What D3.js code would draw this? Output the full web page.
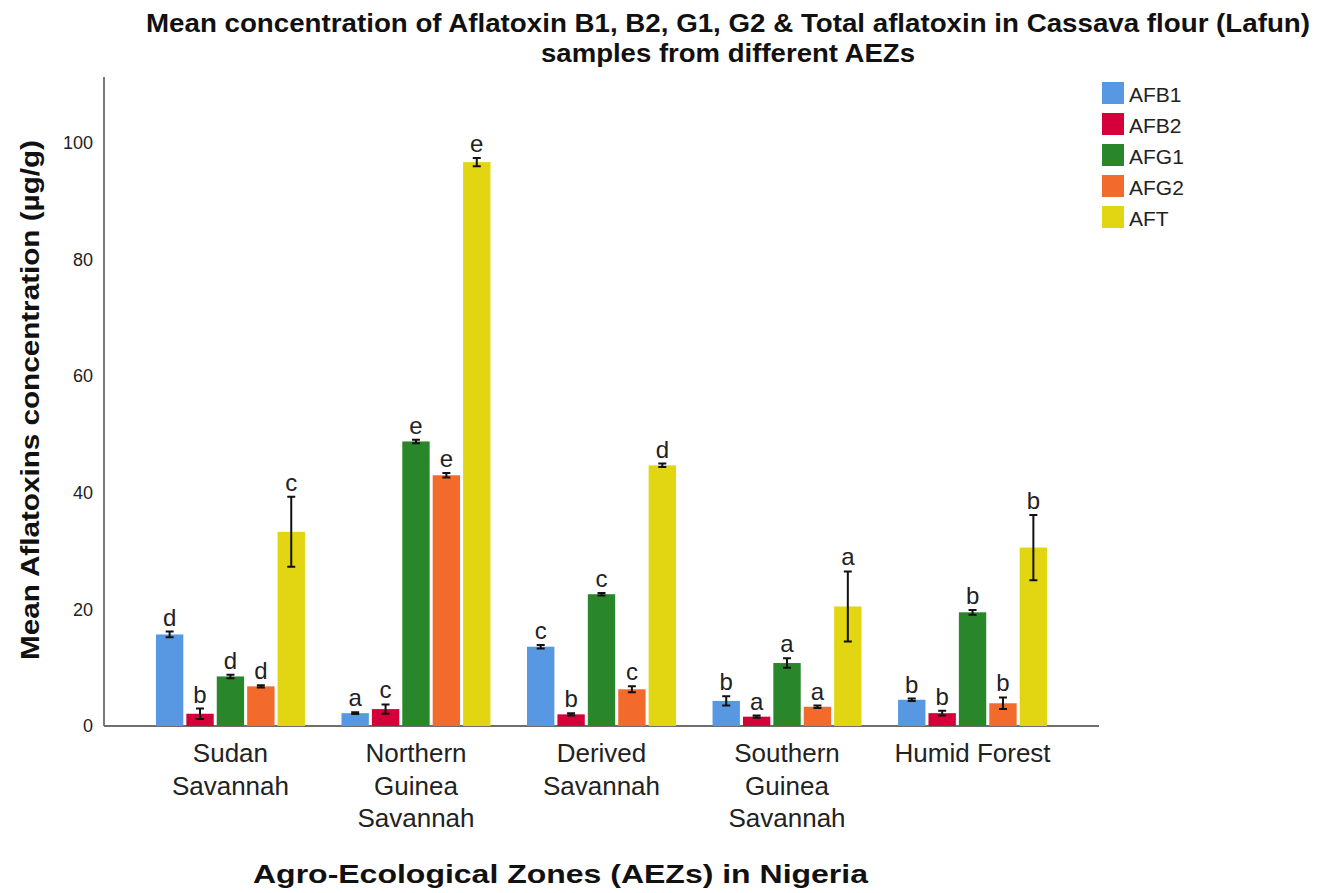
<!DOCTYPE html>
<html lang="en">
    <head>
        <meta charset="utf-8">
        <title>Aflatoxin in Lafun</title>
        <script type="text/javascript" src="https://cdn.jsdelivr.net/npm/d3@7"></script>
        <style>
        body { margin: 0; background: #fff; }
        .axis path,
        .axis line {
            fill: none;
            stroke: #7a7a7a;
            stroke-width: 2px;
            shape-rendering: crispEdges;
        }
        .axis text {
            font-family: "Liberation Sans", Arial, sans-serif;
            font-size: 18px;
            fill: #222;
        }
        text { font-family: "Liberation Sans", Arial, sans-serif; }
        </style>
    </head>
    <body>
        <script type="text/javascript">

            var w = 1318; // svg width
            var h = 893;  // svg height

            // zones and the lines they are broken on under the axis
            var zones = ["Sudan Savannah", "Northern Guinea Savannah", "Derived Savannah", "Southern Guinea Savannah", "Humid Forest"];
            var zoneLines = [["Sudan", "Savannah"], ["Northern", "Guinea", "Savannah"], ["Derived", "Savannah"], ["Southern", "Guinea", "Savannah"], ["Humid Forest"]];

            var toxins = ["AFB1", "AFB2", "AFG1", "AFG2", "AFT"];
            var colors = ["#5898e2", "#d5003a", "#2a862b", "#f26a2c", "#e1d611"];

            // means per toxin, one value per zone
            var AFB1 = [15.7, 2.2, 13.6, 4.3, 4.5];
            var AFB2 = [2.1, 2.9, 2.0, 1.6, 2.2];
            var AFG1 = [8.5, 48.8, 22.6, 10.8, 19.5];
            var AFG2 = [6.8, 43.0, 6.3, 3.3, 3.9];
            var AFT  = [33.3, 96.7, 44.7, 20.5, 30.6];

            // half length of the error bars
            var errB1 = [0.5, 0.15, 0.3, 0.8, 0.2];
            var errB2 = [0.9, 0.8, 0.2, 0.2, 0.4];
            var errG1 = [0.3, 0.3, 0.2, 0.8, 0.4];
            var errG2 = [0.2, 0.4, 0.5, 0.2, 1.0];
            var errT  = [6.0, 0.7, 0.3, 6.0, 5.6];

            // significance letters
            var letB1 = ["d", "a", "c", "b", "b"];
            var letB2 = ["b", "c", "b", "a", "b"];
            var letG1 = ["d", "e", "c", "a", "b"];
            var letG2 = ["d", "e", "c", "a", "b"];
            var letT  = ["c", "e", "d", "a", "b"];

            var yTicks = [0, 20, 40, 60, 80, 100];

            var means = [AFB1, AFB2, AFG1, AFG2, AFT];
            var errs = [errB1, errB2, errG1, errG2, errT];
            var lets = [letB1, letB2, letG1, letG2, letT];

            // flatten into one row per bar
            var rows = [];
            zones.forEach(function(z, i) {
                toxins.forEach(function(t, j) {
                    rows.push({zone: z, toxin: t, v: means[j][i], e: errs[j][i], l: lets[j][i], c: colors[j]});
                });
            });

            var svg = d3.select("body").append("svg")
                .attr("width", w)
                .attr("height", h);

            /////////////////////////////////////////////////
            // Scales
            /////////////////////////////////////////////////
            var x0 = d3.scaleBand()
                .domain(zones)
                .range([104, 1099])
                .paddingInner(0.197)
                .paddingOuter(0.28);

            var x1 = d3.scaleBand()
                .domain(toxins)
                .range([0, x0.bandwidth()])
                .paddingInner(0.1);

            var y = d3.scaleLinear()
                .domain([0, 111.3])
                .range([726, 77]);

            /////////////////////////////////////////////////
            // Axes
            /////////////////////////////////////////////////
            svg.append("g")
                .attr("class", "axis")
                .attr("transform", "translate(104,0)")
                .call(d3.axisLeft(y).tickValues(yTicks).tickSize(0).tickPadding(11))
                .select(".domain").attr("d", "M0," + y(111.3) + "V" + y(0));

            svg.append("line")
                .attr("x1", 104).attr("x2", 1099)
                .attr("y1", y(0)).attr("y2", y(0))
                .attr("stroke", "#6e6e6e")
                .attr("stroke-width", 2);

            // zone labels
            var zl = svg.selectAll(".zone")
                .data(zones)
                .enter()
                .append("text")
                .attr("class", "zone")
                .attr("text-anchor", "middle")
                .attr("font-size", 26)
                .attr("fill", "#222");
            zl.each(function(d, i) {
                var t = d3.select(this);
                zoneLines[i].forEach(function(line, k) {
                    t.append("tspan")
                        .attr("x", x0(d) + x0.bandwidth() / 2)
                        .attr("y", 762 + k * 32.5)
                        .text(line);
                });
            });

            /////////////////////////////////////////////////
            // Bars, error bars, letters
            /////////////////////////////////////////////////
            var g = svg.append("g");

            g.selectAll("rect")
                .data(rows)
                .enter()
                .append("rect")
                .attr("x", function(d) { return x0(d.zone) + x1(d.toxin); })
                .attr("y", function(d) { return y(d.v); })
                .attr("width", x1.bandwidth())
                .attr("height", function(d) { return y(0) - y(d.v); })
                .attr("fill", function(d) { return d.c; });

            var cap = 4;
            g.selectAll(".err")
                .data(rows)
                .enter()
                .append("path")
                .attr("class", "err")
                .attr("fill", "none")
                .attr("stroke", "#111")
                .attr("stroke-width", 2)
                .attr("d", function(d) {
                    var cx = x0(d.zone) + x1(d.toxin) + x1.bandwidth() / 2;
                    var top = y(d.v + d.e), bot = y(d.v - d.e);
                    return "M" + (cx - cap) + "," + top + "H" + (cx + cap) +
                        "M" + cx + "," + top + "V" + bot +
                        "M" + (cx - cap) + "," + bot + "H" + (cx + cap);
                });

            g.selectAll(".let")
                .data(rows)
                .enter()
                .append("text")
                .attr("class", "let")
                .attr("text-anchor", "middle")
                .attr("font-size", 24)
                .attr("fill", "#222")
                .attr("x", function(d) { return x0(d.zone) + x1(d.toxin) + x1.bandwidth() / 2; })
                .attr("y", function(d) { return y(d.v + d.e) - 6; })
                .text(function(d) { return d.l; });

            /////////////////////////////////////////////////
            // Titles (stretched to the widths seen in the original)
            /////////////////////////////////////////////////
            var title = svg.append("g")
                .attr("font-size", 25)
                .attr("font-weight", "bold")
                .attr("fill", "#111");
            title.append("text")
                .attr("x", 146).attr("y", 32)
                .attr("textLength", 1164)
                .attr("lengthAdjust", "spacingAndGlyphs")
                .text("Mean concentration of Aflatoxin B1, B2, G1, G2 & Total aflatoxin in Cassava flour (Lafun)");
            title.append("text")
                .attr("x", 541).attr("y", 62)
                .attr("textLength", 374)
                .attr("lengthAdjust", "spacingAndGlyphs")
                .text("samples from different AEZs");

            svg.append("text")
                .attr("transform", "translate(39,660) rotate(-90)")
                .attr("font-size", 26)
                .attr("font-weight", "bold")
                .attr("fill", "#111")
                .attr("textLength", 520)
                .attr("lengthAdjust", "spacingAndGlyphs")
                .text("Mean Aflatoxins concentration (\u00b5g/g)");

            svg.append("text")
                .attr("x", 253)
                .attr("y", 883)
                .attr("font-size", 26)
                .attr("font-weight", "bold")
                .attr("fill", "#111")
                .attr("textLength", 615)
                .attr("lengthAdjust", "spacingAndGlyphs")
                .text("Agro-Ecological Zones (AEZs) in Nigeria");

            /////////////////////////////////////////////////
            // Legend
            /////////////////////////////////////////////////
            var leg = svg.selectAll(".leg")
                .data(toxins)
                .enter()
                .append("g")
                .attr("class", "leg")
                .attr("transform", function(d, i) { return "translate(1102," + (82 + i * 31) + ")"; });

            leg.append("rect")
                .attr("width", 22)
                .attr("height", 22)
                .attr("fill", function(d, i) { return colors[i]; });

            leg.append("text")
                .attr("x", 27)
                .attr("y", 20)
                .attr("font-size", 21)
                .attr("fill", "#222")
                .text(function(d) { return d; });

        </script>
    </body>
</html>
